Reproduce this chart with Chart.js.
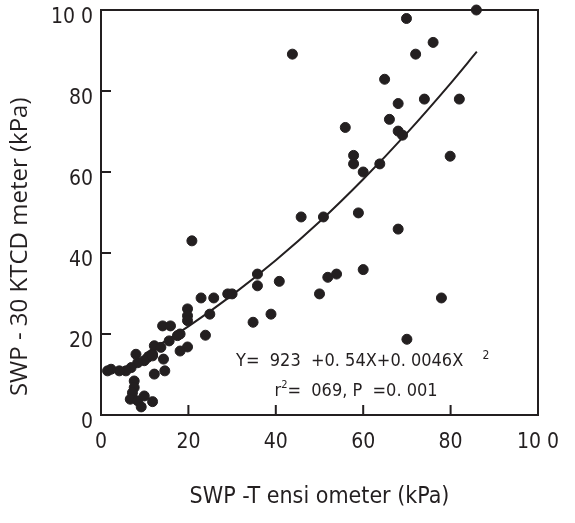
<!DOCTYPE html>
<html>
<head>
<meta charset="utf-8">
<script src="https://cdn.jsdelivr.net/npm/chart.js@4.4.1/dist/chart.umd.min.js"></script>
<style>
  html, body { margin: 0; padding: 0; background: #ffffff; }
  #wrap { width: 575px; height: 523px; position: relative; }
</style>
</head>
<body>
<div id="wrap"><canvas id="c" width="575" height="523"></canvas></div>
<script>
// ---- data ----
const tensiometerX = [
  85.9, 69.9, 43.8, 76.0, 72.0, 64.9, 68.0, 74.0, 82.0, 66.0, 55.9, 68.0, 69.0,
  79.9, 57.8, 57.8, 63.8, 60.0, 45.8, 50.9, 58.9, 68.0, 20.8, 35.8, 40.8, 51.9, 53.9, 60.0,
  35.8, 50.0, 77.9, 22.9, 25.8, 29.0, 30.0, 34.8, 38.9, 70.0, 24.9, 23.9,
  19.8, 19.8, 19.8, 18.1, 19.8, 18.1,
  14.1, 15.9, 15.6, 17.5, 12.2, 13.7, 11.8, 10.7, 9.9, 8.4, 8.0, 6.9, 5.7, 4.2, 2.3, 1.5,
  12.2, 14.6, 7.6, 7.6, 7.2, 6.7, 8.4, 9.2, 9.9, 11.8, 14.3, 11.8
];
const ktcdY = [
  100.0, 97.9, 89.1, 92.0, 89.1, 82.9, 76.9, 78.0, 78.0, 73.0, 71.0, 70.1, 69.1,
  63.9, 64.1, 62.0, 62.0, 60.0, 48.9, 48.9, 49.9, 45.9, 43.0, 34.8, 33.0, 34.0, 34.8, 35.9,
  31.9, 29.9, 28.9, 28.9, 28.9, 29.9, 29.9, 22.9, 24.9, 18.7, 24.9, 19.7,
  26.2, 24.5, 23.3, 20.0, 16.8, 15.8,
  22.0, 22.0, 18.3, 19.6, 17.1, 16.7, 15.0, 14.2, 13.4, 12.9, 15.0, 11.7, 10.9, 10.9, 11.3, 10.9,
  10.1, 10.9, 8.4, 6.8, 5.5, 3.9, 3.5, 2.0, 4.7, 3.3, 13.8, 14.6
];
// fitted curve
const fitX = [10, 20, 30, 40, 50, 60, 70, 80, 86];
const fitY = [15.1, 21.9, 29.6, 38.2, 47.7, 58.2, 69.6, 81.9, 89.7];
// axis ticks
const tickValues = [0, 20, 40, 60, 80, 100];
const tickLabels = ['0', '20', '40', '60', '80', '10 0'];
const xTitle = 'SWP -T ensi ometer (kPa)';
const yTitle = 'SWP - 30 KTCD meter (kPa)';
const eqLine1 = 'Y=  923  +0. 54X+0. 0046X';
const eqSup1 = '2';
const eqLine2a = 'r';
const eqSup2 = '2';
const eqLine2b = '=  069, P  =0. 001';

const INK = '#231f20';
const NARROW = "'Liberation Sans Narrow', 'DejaVu Sans Condensed', 'Liberation Sans', sans-serif";

const scatterPts = tensiometerX.map((v, i) => ({ x: v, y: ktcdY[i] }));
const fitPts = fitX.map((v, i) => ({ x: v, y: fitY[i] }));

function labelFor(v) {
  const i = tickValues.indexOf(v);
  return i >= 0 ? tickLabels[i] : '';
}

const framePlugin = {
  id: 'frame',
  afterDatasetsDraw(chart) {
    const { ctx, chartArea: { left, right, top, bottom }, scales: { x, y } } = chart;
    ctx.save();
    ctx.strokeStyle = INK;
    ctx.lineWidth = 2;
    ctx.beginPath();
    ctx.moveTo(left, top);
    ctx.lineTo(right, top);
    ctx.lineTo(right, bottom);
    tickValues.forEach(v => {
      const px = x.getPixelForValue(v);
      ctx.moveTo(px, bottom);
      ctx.lineTo(px, bottom - 10);
      const py = y.getPixelForValue(v);
      ctx.moveTo(left, py);
      ctx.lineTo(left + 10, py);
    });
    ctx.stroke();

    // regression annotation
    ctx.fillStyle = INK;
    ctx.textBaseline = 'middle';
    ctx.textAlign = 'left';
    ctx.font = '18px ' + NARROW;
    ctx.fillText(eqLine1, x.getPixelForValue(30.9), y.getPixelForValue(13.2));
    ctx.font = '12px ' + NARROW;
    ctx.fillText(eqSup1, x.getPixelForValue(87.3), y.getPixelForValue(14.5));
    const l2x = x.getPixelForValue(39.7);
    const l2y = y.getPixelForValue(5.9);
    ctx.font = '18px ' + NARROW;
    ctx.fillText(eqLine2a, l2x, l2y);
    const rw = ctx.measureText(eqLine2a).width;
    ctx.font = '11px ' + NARROW;
    ctx.fillText(eqSup2, l2x + rw, l2y - 6);
    const sw = ctx.measureText(eqSup2).width;
    ctx.font = '18px ' + NARROW;
    ctx.fillText(eqLine2b, l2x + rw + sw, l2y);
    ctx.restore();
  }
};

new Chart(document.getElementById('c'), {
  type: 'scatter',
  data: {
    datasets: [
      {
        label: 'data',
        data: scatterPts,
        backgroundColor: INK,
        borderColor: INK,
        pointRadius: 5,
        pointHoverRadius: 5,
        clip: false
      },
      {
        type: 'line',
        label: 'fit',
        data: fitPts,
        borderColor: INK,
        borderWidth: 2,
        pointRadius: 0,
        fill: false,
        tension: 0.4,
        cubicInterpolationMode: 'monotone'
      }
    ]
  },
  options: {
    responsive: false,
    animation: false,
    devicePixelRatio: 1,
    layout: { padding: { top: 10, right: 37, left: 0, bottom: 0 } },
    plugins: { legend: { display: false }, tooltip: { enabled: false } },
    scales: {
      x: {
        type: 'linear', min: 0, max: 100,
        afterFit: s => { s.height = 108; s.paddingLeft = 0; s.paddingRight = 0; },
        afterBuildTicks: s => { s.ticks = tickValues.map(v => ({ value: v })); },
        grid: { display: false, drawTicks: false },
        border: { display: true, color: INK, width: 2 },
        ticks: {
          padding: 15, color: INK, maxRotation: 0, autoSkip: false,
          font: { family: NARROW, size: 21 },
          callback: v => labelFor(v)
        },
        title: {
          display: true, text: xTitle, color: INK,
          font: { family: NARROW, size: 23 },
          padding: { top: 16, bottom: 12 }
        }
      },
      y: {
        type: 'linear', min: 0, max: 100,
        afterFit: s => { s.width = 101; s.paddingTop = 0; s.paddingBottom = 0; },
        afterBuildTicks: s => { s.ticks = tickValues.map(v => ({ value: v })); },
        grid: { display: false, drawTicks: false },
        border: { display: true, color: INK, width: 2 },
        ticks: {
          padding: 8, color: INK, autoSkip: false, labelOffset: 8,
          font: { family: NARROW, size: 21 },
          callback: v => labelFor(v)
        },
        title: {
          display: true,
          text: yTitle + '\u00a0\u00a0\u00a0\u00a0\u00a0\u00a0\u00a0\u00a0\u00a0\u00a0\u00a0',
          color: INK,
          font: { family: "'Open Sans', sans-serif", size: 24 },
          padding: { top: 6, bottom: 0 }
        }
      }
    }
  },
  plugins: [framePlugin]
});
</script>
</body>
</html>
